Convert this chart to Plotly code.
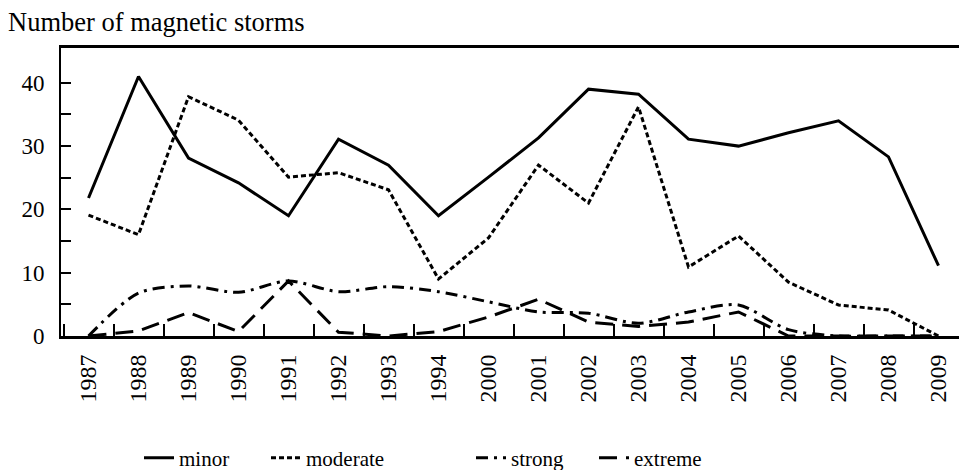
import plotly.graph_objects as go

years = ["1987", "1988", "1989", "1990", "1991", "1992", "1993", "1994", "2000",
         "2001", "2002", "2003", "2004", "2005", "2006", "2007", "2008", "2009"]
minor = [21.8, 41.0, 28.1, 24.2, 19.0, 31.1, 27.0, 19.0, 25.1,
         31.3, 39.0, 38.2, 31.1, 30.0, 32.1, 34.0, 28.3, 11.1]
moderate = [19.1, 16.0, 37.8, 34.1, 25.1, 25.8, 23.1, 9.0, 15.5,
            27.0, 21.0, 36.2, 10.9, 15.8, 8.5, 4.9, 4.1, 0.0]
strong = [0.0, 6.8, 7.9, 6.9, 8.7, 7.0, 7.8, 7.0, 5.4,
          3.8, 3.6, 2.0, 3.8, 4.9, 1.0, 0.0, 0.0, 0.0]
extreme = [0.0, 0.8, 3.7, 0.7, 8.7, 0.6, 0.0, 0.7, 3.0,
           5.8, 2.2, 1.5, 2.2, 3.8, 0.0, 0.0, 0.0, 0.0]

FONT = "Liberation Serif, Times New Roman, Times, DejaVu Serif, serif"
L, R, T, B = 61, 0, 48, 134
W, H = 959, 470
pw, ph = W - L - R, H - T - B

def px_x(p):
    return (p - L) / pw

def px_y(p):
    return (H - B - p) / ph

fig = go.Figure()
series = [
    ("minor", minor, "solid", "linear", "legend"),
    ("moderate", moderate, "5px,3px", "linear", "legend2"),
    ("strong", strong, "12px,6px,3px,6px", "spline", "legend3"),
    ("extreme", extreme, "18px,9px", "linear", "legend4"),
]
for name, vals, dash, shape, lg in series:
    fig.add_trace(go.Scatter(
        x=years, y=vals, name=name, mode="lines",
        line=dict(color="black", width=3, dash=dash, shape=shape, smoothing=0.8),
        legend=lg,
    ))

leg_common = dict(font=dict(family=FONT, size=21, color="black"),
                  bgcolor="rgba(0,0,0,0)", yanchor="middle", xanchor="left",
                  orientation="h")
leg_x = [139, 266, 471, 594]
leg_y = px_y(458)
fig.update_layout(
    legend=dict(x=px_x(leg_x[0]), y=leg_y, **leg_common),
    legend2=dict(x=px_x(leg_x[1]), y=leg_y, **leg_common),
    legend3=dict(x=px_x(leg_x[2]), y=leg_y, **leg_common),
    legend4=dict(x=px_x(leg_x[3]), y=leg_y, **leg_common),
)

fig.update_layout(
    width=W, height=H,
    margin=dict(l=L, r=R, t=T, b=B, pad=0, autoexpand=False),
    paper_bgcolor="white", plot_bgcolor="white",
    font=dict(family=FONT, size=22, color="black"),
    showlegend=True,
    annotations=[dict(text="Number of magnetic storms", xref="paper", yref="paper",
                      x=px_x(6), y=px_y(22), xanchor="left", yanchor="middle",
                      showarrow=False, font=dict(family=FONT, size=26.5, color="black"))],
)
fig.update_xaxes(
    type="category", range=[-0.55, 17.41], automargin=False,
    showline=True, linecolor="black", linewidth=3, mirror=True,
    ticks="inside", tickson="boundaries", ticklen=12, tickwidth=2, tickcolor="black",
    tickangle=-90, showgrid=False, zeroline=False, ticklabelstandoff=6,
    tickfont=dict(family=FONT, size=24, color="black"),
)
fig.update_yaxes(
    range=[0, 45.5], tickvals=[0, 10, 20, 30, 40], automargin=False,
    showline=True, linecolor="black", linewidth=2,
    ticks="inside", ticklen=10, tickwidth=2, tickcolor="black",
    minor=dict(ticks="inside", ticklen=10, tickwidth=2, tickcolor="black", tickvals=[5, 15, 25, 35]),
    showgrid=False, zeroline=False, ticklabelstandoff=10,
    tickfont=dict(family=FONT, size=23, color="black"),
)

fig.write_html("out.html", config={"displayModeBar": False},
               post_script="document.body.style.margin='0';document.body.style.padding='0';")
